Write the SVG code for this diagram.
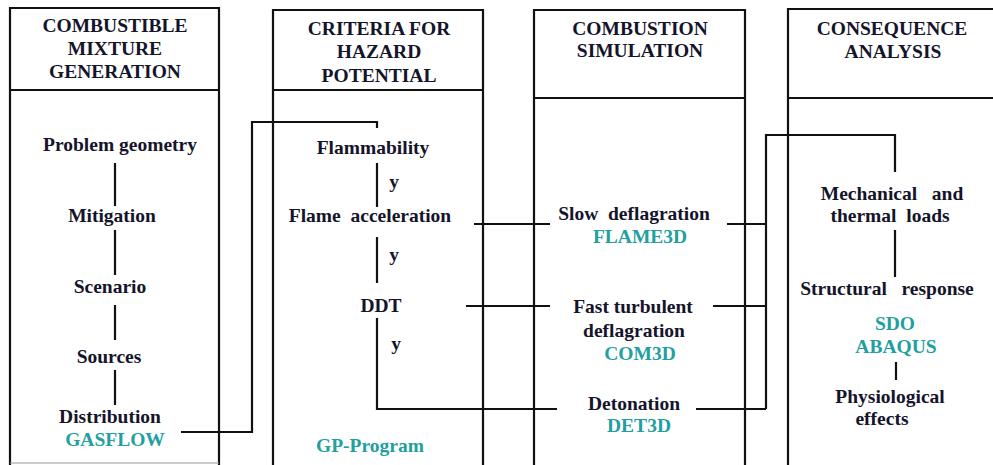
<svg xmlns="http://www.w3.org/2000/svg" width="993" height="465" viewBox="0 0 993 465">
<style>
.box{fill:none;stroke:#111;stroke-width:2.2}
.ln{fill:none;stroke:#111;stroke-width:2.2}
.t{font-family:'Liberation Serif','DejaVu Serif',serif;font-weight:700;font-size:19.5px;fill:#14142a;text-anchor:middle}
.c{fill:#22a0a0}
</style>
<rect width="993" height="465" fill="#fff"/>
<g id="col1">
<path class="box" d="M10,470 V8 H219 V470"/>
<line x1="10" y1="90" x2="219" y2="90" class="box"/>
<line x1="10" y1="463" x2="219" y2="463" stroke="#999" stroke-width="1.2"/>
<text class="t" x="115" y="32">COMBUSTIBLE</text>
<text class="t" x="115" y="55">MIXTURE</text>
<text class="t" x="115" y="78">GENERATION</text>
</g>
<g id="col2">
<path class="box" d="M273,470 V10 H483 V470"/>
<line x1="273" y1="90" x2="483" y2="90" class="box"/>
<text class="t" x="379" y="35">CRITERIA FOR</text>
<text class="t" x="379" y="58">HAZARD</text>
<text class="t" x="379" y="82">POTENTIAL</text>
</g>
<g id="col3">
<path class="box" d="M534,470 V10 H745 V470"/>
<line x1="534" y1="98" x2="745" y2="98" class="box"/>
<text class="t" x="640" y="35">COMBUSTION</text>
<text class="t" x="640" y="57">SIMULATION</text>
</g>
<g id="col4">
<path class="box" d="M788,470 V9 H995"/>
<line x1="788" y1="98" x2="995" y2="98" class="box"/>
<text class="t" x="892" y="35">CONSEQUENCE</text>
<text class="t" x="893" y="58">ANALYSIS</text>
</g>
<g id="n-geometry"><text class="t" x="120" y="151">Problem geometry</text></g>
<g id="n-mitigation"><text class="t" x="112" y="222">Mitigation</text></g>
<g id="n-scenario"><text class="t" x="110" y="293">Scenario</text></g>
<g id="n-sources"><text class="t" x="109" y="363">Sources</text></g>
<g id="n-distribution"><text class="t" x="110" y="423">Distribution</text><text class="t c" x="115" y="446">GASFLOW</text></g>
<g id="n-flammability"><text class="t" x="373" y="154">Flammability</text></g>
<g id="n-flameacc"><text class="t" x="370" y="222" xml:space="preserve">Flame  acceleration</text></g>
<g id="n-ddt"><text class="t" x="381" y="312">DDT</text></g>
<g id="n-gp"><text class="t c" x="370" y="452">GP-Program</text></g>
<g id="n-slow"><text class="t" x="634" y="220" xml:space="preserve">Slow  deflagration</text><text class="t c" x="640" y="243">FLAME3D</text></g>
<g id="n-fast"><text class="t" x="633" y="313">Fast turbulent</text><text class="t" x="634" y="337">deflagration</text><text class="t c" x="640" y="360">COM3D</text></g>
<g id="n-det"><text class="t" x="634" y="410">Detonation</text><text class="t c" x="639" y="432">DET3D</text></g>
<g id="n-mech"><text class="t" x="892" y="200" xml:space="preserve">Mechanical   and</text><text class="t" x="890" y="222" xml:space="preserve">thermal  loads</text></g>
<g id="n-struct"><text class="t" x="887" y="295" xml:space="preserve">Structural   response</text><text class="t c" x="895" y="330">SDO</text><text class="t c" x="896" y="353">ABAQUS</text></g>
<g id="n-physio"><text class="t" x="890" y="403">Physiological</text><text class="t" x="882" y="425">effects</text></g>
<g id="connectors">
<line class="ln" x1="115" y1="163" x2="115" y2="206"/>
<line class="ln" x1="115" y1="230" x2="115" y2="275"/>
<line class="ln" x1="115" y1="305" x2="115" y2="340"/>
<line class="ln" x1="115" y1="370" x2="115" y2="405"/>
<path class="ln" d="M181,432 H252 V122 H377 V128"/>
<line class="ln" x1="377" y1="163" x2="377" y2="207"/>
<text class="t" x="394" y="188">y</text>
<line class="ln" x1="377" y1="237" x2="377" y2="283"/>
<text class="t" x="394" y="261">y</text>
<path class="ln" d="M377,318 V409 H557"/>
<text class="t" x="396" y="350">y</text>
<line class="ln" x1="474" y1="224" x2="550" y2="224"/>
<line class="ln" x1="466" y1="306" x2="550" y2="306"/>
<line class="ln" x1="727" y1="224" x2="766" y2="224"/>
<line class="ln" x1="713" y1="306" x2="766" y2="306"/>
<line class="ln" x1="696" y1="409" x2="766" y2="409"/>
<path class="ln" d="M766,409 V135 H895 V172"/>
<line class="ln" x1="895" y1="230" x2="895" y2="277"/>
<line class="ln" x1="896" y1="362" x2="896" y2="380"/>
</g>
</svg>
